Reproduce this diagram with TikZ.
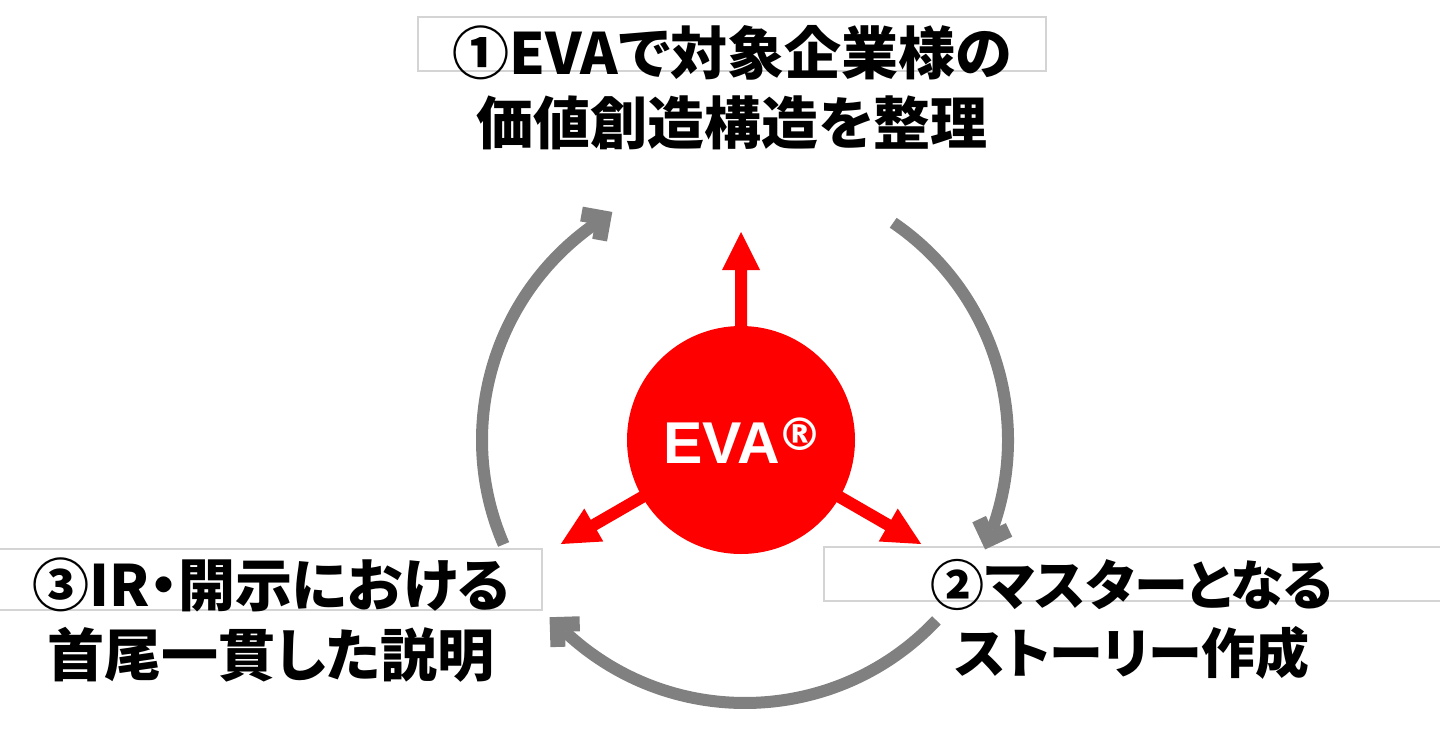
\documentclass[tikz,border=0pt]{standalone}
\usepackage{fontspec}
\newfontfamily\jp{Noto Sans CJK JP}[CharacterWidth=AlternateProportional]
\newfontfamily\lat{Liberation Sans}
\newfontfamily\dvs{DejaVu Sans}
\definecolor{evared}{HTML}{FF0000}
\definecolor{ringgray}{HTML}{808080}
\definecolor{boxgray}{HTML}{D4D4D4}
\newcommand\ringarrow[2]{%
  \draw[ringline] ([shift={(#1:263)}]ring) arc[start angle=#1, end angle=#2, radius=263];
  \fill[ringgray, shift={(ring)}, rotate=#2, shift={(263,0)}, rotate=-90]
    (21.2,0) -- (0,21.2) -- (-10.6,10.6) -- (0,0) -- (-10.6,-10.6) -- (0,-21.2) -- cycle;}
\begin{document}
\begin{tikzpicture}[x=1pt,y=1pt,
  txtbox/.style={draw=boxgray, line width=1.2pt},
  steplabel/.style={font=\jp\bfseries\fontsize{57}{70}\selectfont, align=center, text=black, inner sep=0pt},
  ringline/.style={draw=ringgray, line width=12pt}]
\useasboundingbox (0,0) rectangle (1440,-732);
\clip (0,0) rectangle (1440,-732);
% text frames
\draw[txtbox] (418,-17) rectangle (1046,-71);
\draw[txtbox] (-10,-549) rectangle (542,-610);
\draw[txtbox] (824,-547) rectangle (1460,-601);
% labels
\node[steplabel] (s1) at (732,-88) {①EVAで対象企業様の\\価値創造構造を整理};
\node[steplabel, font=\jp\bfseries\fontsize{54}{68}\selectfont] (s2) at (1132,-619) {②マスターとなる\\ストーリー作成};
\node[steplabel] (s3) at (271,-620) {③IR・開示における\\首尾一貫した説明};
% ring
\coordinate (ring) at (745,-440);
\ringarrow{203.4}{124.8}
\ringarrow{55.7}{-19.9}
\ringarrow{-43.3}{-133.2}
% centre
\node[circle, fill=evared, minimum size=228pt, inner sep=0pt] (eva) at (741,-440) {};
\foreach \a in {90,210,330}{
  \fill[evared, shift={(eva.center)}, rotate=\a]
    (100,-6) -- (170,-6) -- (170,-19) -- (208,0) -- (170,19) -- (170,6) -- (100,6) -- cycle;}
\node[font=\lat\bfseries\fontsize{59}{59}\selectfont, text=white, anchor=base, inner sep=0pt] (evatext) at (743,-463)
  {EVA\kern-3pt\raisebox{13pt}{\dvs\fontsize{45}{45}\selectfont ®}};
\end{tikzpicture}
\end{document}
